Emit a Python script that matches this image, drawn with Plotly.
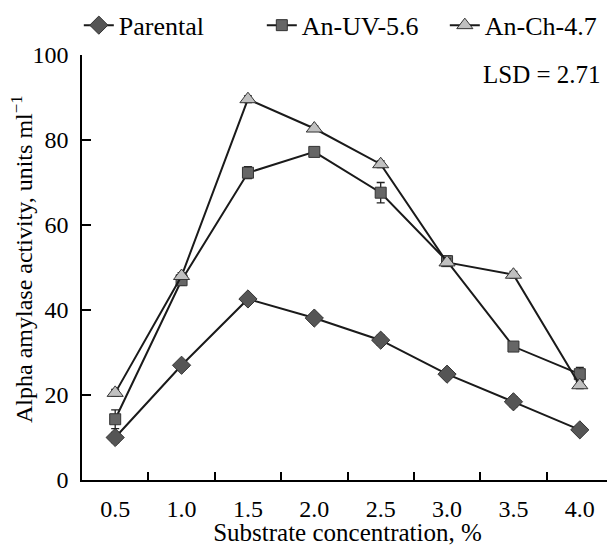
import plotly.graph_objects as go

categories = ["0.5", "1.0", "1.5", "2.0", "2.5", "3.0", "3.5", "4.0"]
parental = [10.0, 27.0, 42.6, 38.1, 32.9, 24.9, 18.4, 11.8]
parental_err = [1.2, 0.6, 0.6, 0.8, 1.2, 0.6, 1.2, 0.6]
an_uv = [14.3, 47.0, 72.3, 77.2, 67.6, 51.5, 31.4, 24.9]
an_uv_err = [2.2, 1.2, 1.4, 1.0, 2.4, 1.2, 0.8, 1.6]
an_ch = [20.5, 48.0, 89.6, 82.7, 74.3, 51.2, 48.3, 22.3]
an_ch_err = [0.8, 0.8, 0.8, 0.6, 0.8, 0.8, 0.8, 0.8]
y_ticks = [0, 20, 40, 60, 80, 100]

FONT = "Liberation Serif"

fig = go.Figure()

def add(name, y, err, symbol, color, size):
    fig.add_trace(go.Scatter(
        x=categories, y=y, name=name, mode="lines+markers",
        line=dict(color="#1a1a1a", width=2),
        marker=dict(symbol=symbol, color=color, size=size,
                    line=dict(color="#333333", width=1)),
        error_y=dict(type="data", array=err, visible=True,
                     color="#222222", thickness=1.3, width=4),
    ))

add("Parental", parental, parental_err, "diamond", "#555555", 14)
add("An-UV-5.6", an_uv, an_uv_err, "square", "#666666", 11)
add("An-Ch-4.7", an_ch, an_ch_err, "triangle-up", "#c0c0c0", 14)

# page body has an 8px margin, so the figure is offset by (8, 8)
fig.update_layout(
    width=607, height=538,
    margin=dict(l=74, r=2, t=47, b=66, autoexpand=False),
    paper_bgcolor="white", plot_bgcolor="white",
    font=dict(family=FONT, size=24, color="black"),
    showlegend=True,
    legend=dict(orientation="h", x=-0.006, xanchor="left", y=1.07, yanchor="middle",
                font=dict(size=26), itemwidth=30, tracegroupgap=0,
                entrywidth=138, borderwidth=0,
                bgcolor="rgba(0,0,0,0)"),
    xaxis=dict(
        type="category", range=[-0.5, 7.5],
        tickson="boundaries", ticks="inside", ticklen=8, tickwidth=1.5, tickcolor="black",
        showline=True, linecolor="black", linewidth=1.5, showgrid=False, zeroline=False,
        tickfont=dict(size=24), ticklabelstandoff=6,
        title=dict(text="Substrate concentration, %", font=dict(size=25), standoff=0),
    ),
    yaxis=dict(
        range=[0, 100], tickvals=y_ticks, ticks="inside", ticklen=9, tickwidth=1.5,
        tickcolor="black", showline=True, linecolor="black", linewidth=1.5,
        showgrid=False, zeroline=False, tickfont=dict(size=24), ticklabelstandoff=7,
    ),
    annotations=[
        dict(text="LSD = 2.71", x=0.981, y=0.955, xref="paper", yref="paper",
             xanchor="right", yanchor="middle", showarrow=False, font=dict(size=25)),
        dict(text="Alpha amylase activity, units ml<sup>−1</sup>", textangle=-90,
             x=-0.113, y=0.52, xref="paper", yref="paper", xanchor="center",
             yanchor="middle", showarrow=False, font=dict(size=24)),
    ],
)

fig.write_html("out.html")
